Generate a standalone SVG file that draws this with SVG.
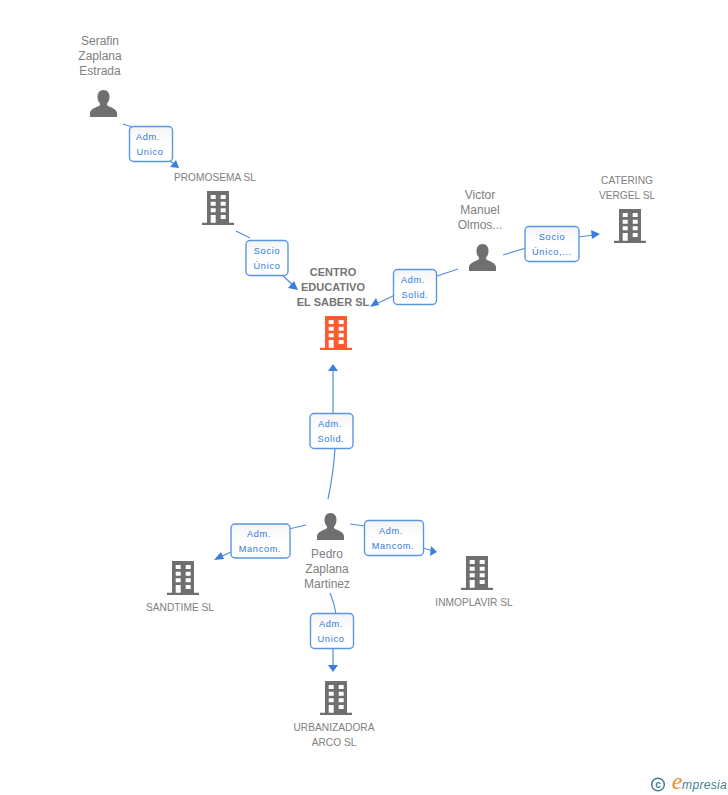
<svg xmlns="http://www.w3.org/2000/svg" width="728" height="795" viewBox="0 0 728 795">
<style>
text{font-family:"Liberation Sans",Arial,sans-serif;font-size:10.2px;fill:#808080;text-anchor:middle}
.p{font-size:12px}
.c{font-weight:bold;fill:#757575;font-size:11px}
.l{fill:#2f78e0;font-size:9.2px;letter-spacing:.7px}
.b{fill:url(#g);stroke:#5a96e6;stroke-width:1.4}
.e{fill:none;stroke:#4f8fe6;stroke-width:1.2}
.a{fill:#3b7fdc}
</style>
<defs>
<linearGradient id="g" x1="0" y1="0" x2="0" y2="1"><stop offset="0" stop-color="#f4f4f4"/><stop offset=".5" stop-color="#fff"/></linearGradient>
<path id="bld" fill-rule="evenodd" d="M-11-17H11V14.700H16V17H-16V14.700H-11ZM-7.300-13V-9H-2.300V-13ZM2.700-13V-9H7.700V-13ZM-7.300-6.300V-2.300H-2.300V-6.300ZM2.700-6.300V-2.300H7.700V-6.300ZM-7.300 .3V4.300H-2.300V.3ZM2.700 .3V4.300H7.700V.3ZM-7.300 7V14.700H-2.300V7ZM2.700 7V11H7.700V7Z"/>
<path id="per" d="M0-14C4-14 6-11 6-7C6-4 5-2 3.500-.5V1C5 3 13 4 13.500 9V13H-13.500V9C-13 4-5 3-3.500 1V-.5C-5-2-6-4-6-7C-6-11-4-14 0-14Z"/>
</defs>
<g id="connectors">
<path class="e" d="M123 124L135 128M165 158L176 165"/><path class="a" d="M179 168L170 167L176 160Z"/>
<path class="e" d="M236 231L250 238M282 275L294 286"/><path class="a" d="M298 290L288 288L294 281Z"/>
<path class="e" d="M458 269L434 277M395 295L376 304"/><path class="a" d="M370 307L376 298L379 305Z"/>
<path class="e" d="M503 255L526 248M578 237L594 235"/><path class="a" d="M600 234L591 230L592 239Z"/>
<path class="e" d="M328 499C331 485 334 465 335 448M333 414L333 370"/><path class="a" d="M333 364L328 371H338Z"/>
<path class="e" d="M306 525L289 529M231 552L218 558"/><path class="a" d="M214 560L221 552L224 559Z"/>
<path class="e" d="M350 524L365 526M423 548L433 551"/><path class="a" d="M437 552L431 546L430 556Z"/>
<path class="e" d="M330 593C333 600 335 607 336 614M333 648L333 666"/><path class="a" d="M333 672L328 665H338Z"/>
</g>
<g id="n-serafin"><use href="#per" x="103.500" y="104" fill="#6f6f6f"/><text class="p" x="100" y="45">Serafin</text><text class="p" x="100" y="60">Zaplana</text><text class="p" x="100" y="75">Estrada</text></g>
<g id="n-promosema"><text x="215" y="181">PROMOSEMA SL</text><use href="#bld" x="218" y="208" fill="#6f6f6f"/></g>
<g id="n-centro"><text class="c" x="333" y="276">CENTRO</text><text class="c" x="333" y="291">EDUCATIVO</text><text class="c" x="333" y="306">EL SABER SL</text><use href="#bld" x="336" y="333" fill="#ff5a2b"/></g>
<g id="n-victor"><text class="p" x="480" y="199">Victor</text><text class="p" x="480" y="214">Manuel</text><text class="p" x="480" y="229">Olmos...</text><use href="#per" x="482.500" y="258" fill="#6f6f6f"/></g>
<g id="n-catering"><text x="627" y="184">CATERING</text><text x="627" y="199">VERGEL SL</text><use href="#bld" x="630" y="226" fill="#6f6f6f"/></g>
<g id="n-pedro"><use href="#per" x="330.500" y="527" fill="#6f6f6f"/><text class="p" x="327" y="558">Pedro</text><text class="p" x="327" y="573">Zaplana</text><text class="p" x="327" y="588">Martinez</text></g>
<g id="n-sandtime"><use href="#bld" x="183" y="578" fill="#6f6f6f"/><text x="180" y="611">SANDTIME SL</text></g>
<g id="n-inmoplavir"><use href="#bld" x="477" y="573" fill="#6f6f6f"/><text x="474" y="606">INMOPLAVIR SL</text></g>
<g id="n-urbanizadora"><use href="#bld" x="336" y="698" fill="#6f6f6f"/><text x="334" y="731">URBANIZADORA</text><text x="334" y="746">ARCO SL</text></g>
<g id="edge-labels">
<rect class="b" x="129.500" y="126.500" width="43" height="35" rx="4"/><text class="l" x="148" y="140">Adm.</text><text class="l" x="150" y="155">Unico</text>
<rect class="b" x="246" y="240.500" width="42" height="35" rx="4"/><text class="l" x="267" y="254">Socio</text><text class="l" x="267" y="269">Único</text>
<rect class="b" x="393.500" y="269.500" width="43" height="35" rx="4"/><text class="l" x="413" y="283">Adm.</text><text class="l" x="415" y="298">Solid.</text>
<rect class="b" x="525" y="226.500" width="54" height="35" rx="4"/><text class="l" x="552" y="240">Socio</text><text class="l" x="552" y="255">Único,...</text>
<rect class="b" x="310" y="413.500" width="43" height="35" rx="4"/><text class="l" x="330" y="427">Adm.</text><text class="l" x="331" y="442">Solid.</text>
<rect class="b" x="231" y="524" width="59" height="34" rx="4"/><text class="l" x="259" y="537">Adm.</text><text class="l" x="260" y="552">Mancom.</text>
<rect class="b" x="364.500" y="520.500" width="59" height="35" rx="4"/><text class="l" x="391" y="534">Adm.</text><text class="l" x="393" y="549">Mancom.</text>
<rect class="b" x="310.500" y="613.500" width="43" height="35" rx="4"/><text class="l" x="331" y="627">Adm.</text><text class="l" x="331" y="642">Unico</text>
</g>
<g id="logo">
<circle cx="658" cy="784.500" r="6.300" fill="none" stroke="#3f7f92" stroke-width="1.500"/>
<text x="658" y="788" style="font-size:10px;font-weight:bold;fill:#3f7f92">c</text>
<text x="677" y="789" style="font-family:'Liberation Serif',serif;font-style:italic;font-size:24px;fill:#f08a1d">e</text>
<text x="704.500" y="789" style="font-family:'Liberation Sans',sans-serif;font-style:italic;font-size:12px;fill:#3f7f92;letter-spacing:.3px">mpresia</text>
</g>
</svg>
